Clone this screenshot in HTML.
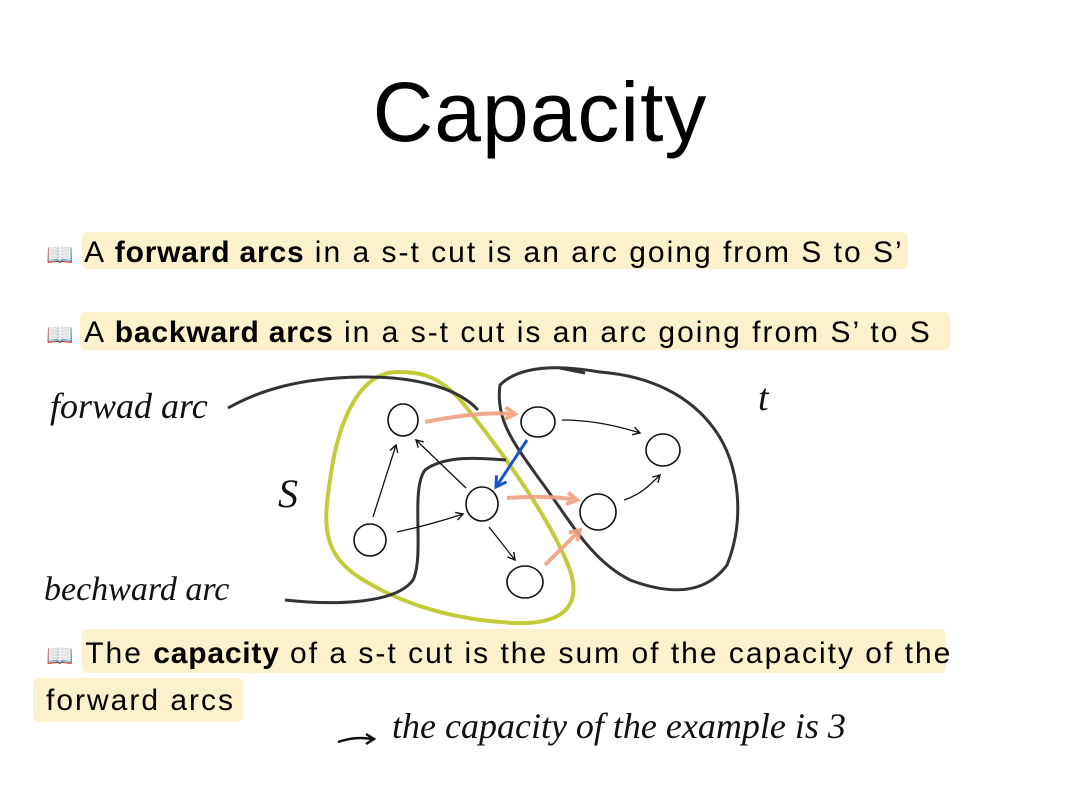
<!DOCTYPE html>
<html><head><meta charset="utf-8"><style>
html,body{margin:0;padding:0;background:#fff;}
body{width:1080px;height:810px;position:relative;overflow:hidden;font-family:"Liberation Sans",sans-serif;color:#000;}
.t{position:absolute;font-size:30px;white-space:nowrap;letter-spacing:2px;}
.t b{letter-spacing:0.8px;}
.hl{position:absolute;background:#fdf0cc;border-radius:6px;}
.hw{font-family:"Liberation Serif",serif;font-style:italic;fill:#111;}
</style></head><body>
<div class="t" style="left:0;width:1080px;text-align:center;top:64px;font-size:84px;letter-spacing:1px;">Capacity</div>

<div class="hl" style="left:82px;top:232px;width:826px;height:37px;"></div>
<div class="t" style="left:46px;top:236px;"><span style="font-size:22px">📖</span> A <b>forward arcs</b> in a s-t cut is an arc going from S to S’</div>

<div class="hl" style="left:80px;top:312px;width:870px;height:38px;"></div>
<div class="t" style="left:46px;top:316px;"><span style="font-size:22px">📖</span> A <b>backward arcs</b> in a s-t cut is an arc going from S’ to S</div>

<div class="hl" style="left:82px;top:629px;width:864px;height:44px;"></div>
<div class="hl" style="left:33px;top:678px;width:210px;height:44px;"></div>
<div class="t" style="left:46px;top:637px;"><span style="font-size:22px">📖</span> The <b>capacity</b> of a s-t cut is the sum of the capacity of the</div>
<div class="t" style="left:46px;top:684px;">forward arcs</div>

<svg width="1080" height="810" style="position:absolute;left:0;top:0" viewBox="0 0 1080 810">
<defs>
<marker id="a" markerWidth="10" markerHeight="10" refX="8" refY="5" orient="auto" markerUnits="userSpaceOnUse"><path d="M1,1 L8,5 L1,9" fill="none" stroke="#111" stroke-width="1.4"/></marker>
<marker id="ao" markerWidth="14" markerHeight="14" refX="11" refY="7" orient="auto" markerUnits="userSpaceOnUse"><path d="M1,1 L11,7 L1,13" fill="none" stroke="#f0a080" stroke-width="4"/></marker>
<marker id="ab" markerWidth="14" markerHeight="14" refX="11" refY="7" orient="auto" markerUnits="userSpaceOnUse"><path d="M1,1 L11,7 L1,13" fill="none" stroke="#1a55c8" stroke-width="3"/></marker>
</defs>
<path d="M400,372 C360,370 338,420 330,480 C322,530 325,555 360,578 C400,603 450,620 515,623 C570,625 580,600 570,570 C552,522 505,455 462,402 C440,376 420,372 400,372Z" fill="none" stroke="#c2cc3a" stroke-width="4"/>
<path d="M500,385 C520,365 560,365 600,372 C650,376 690,395 715,430 C740,465 745,520 727,565 C705,595 670,595 630,580 C590,560 570,520 540,480 C515,445 495,420 500,385Z" fill="none" stroke="#333" stroke-width="3"/>
<path d="M560,368 L585,373" stroke="#333" stroke-width="3"/>
<path d="M228,408 C260,390 300,378 360,377 C420,376 460,390 478,410" fill="none" stroke="#333" stroke-width="3"/>
<path d="M285,600 C330,605 395,605 413,580 C425,555 410,490 425,470 C445,455 480,458 506,460" fill="none" stroke="#333" stroke-width="3"/>
<g fill="none" stroke="#111" stroke-width="1.6">
<ellipse cx="403" cy="420" rx="15" ry="16"/>
<ellipse cx="538" cy="422" rx="17" ry="15"/>
<ellipse cx="663" cy="450" rx="17" ry="16"/>
<ellipse cx="482" cy="504" rx="16" ry="17"/>
<ellipse cx="598" cy="512" rx="18" ry="18"/>
<ellipse cx="370" cy="540" rx="16" ry="16"/>
<ellipse cx="525" cy="582" rx="18" ry="16"/>
</g>
<g fill="none" stroke="#111" stroke-width="1.3">
<path d="M373,517 L396,445" marker-end="url(#a)"/>
<path d="M466,488 L416,440" marker-end="url(#a)"/>
<path d="M397,532 C420,527 445,520 463,514" marker-end="url(#a)"/>
<path d="M489,527 L515,560" marker-end="url(#a)"/>
<path d="M562,420 C590,420 615,425 640,433" marker-end="url(#a)"/>
<path d="M624,500 C640,495 650,485 660,475" marker-end="url(#a)"/>
</g>
<g fill="none" stroke="#f0a080" stroke-width="4" opacity="0.9">
<path d="M425,422 C460,415 490,412 515,414" marker-end="url(#ao)"/>
<path d="M507,498 C535,496 560,497 577,500" marker-end="url(#ao)"/>
<path d="M545,565 C560,550 570,540 580,530" marker-end="url(#ao)"/>
</g>
<path d="M527,440 L496,487" fill="none" stroke="#1a55c8" stroke-width="3" marker-end="url(#ab)"/>
<text class="hw" x="50" y="418" font-size="36">forwad arc</text>
<text class="hw" x="44" y="600" font-size="34">bechward arc</text>
<text class="hw" x="278" y="507" font-size="40">S</text>
<text class="hw" x="758" y="410" font-size="38">t</text>
<path d="M338,742 C350,738 360,737 372,739 M366,734 L374,739 L366,744" fill="none" stroke="#111" stroke-width="2.5"/>
<text class="hw" x="392" y="738" font-size="36">the capacity of the example is 3</text>
</svg>
</body></html>
